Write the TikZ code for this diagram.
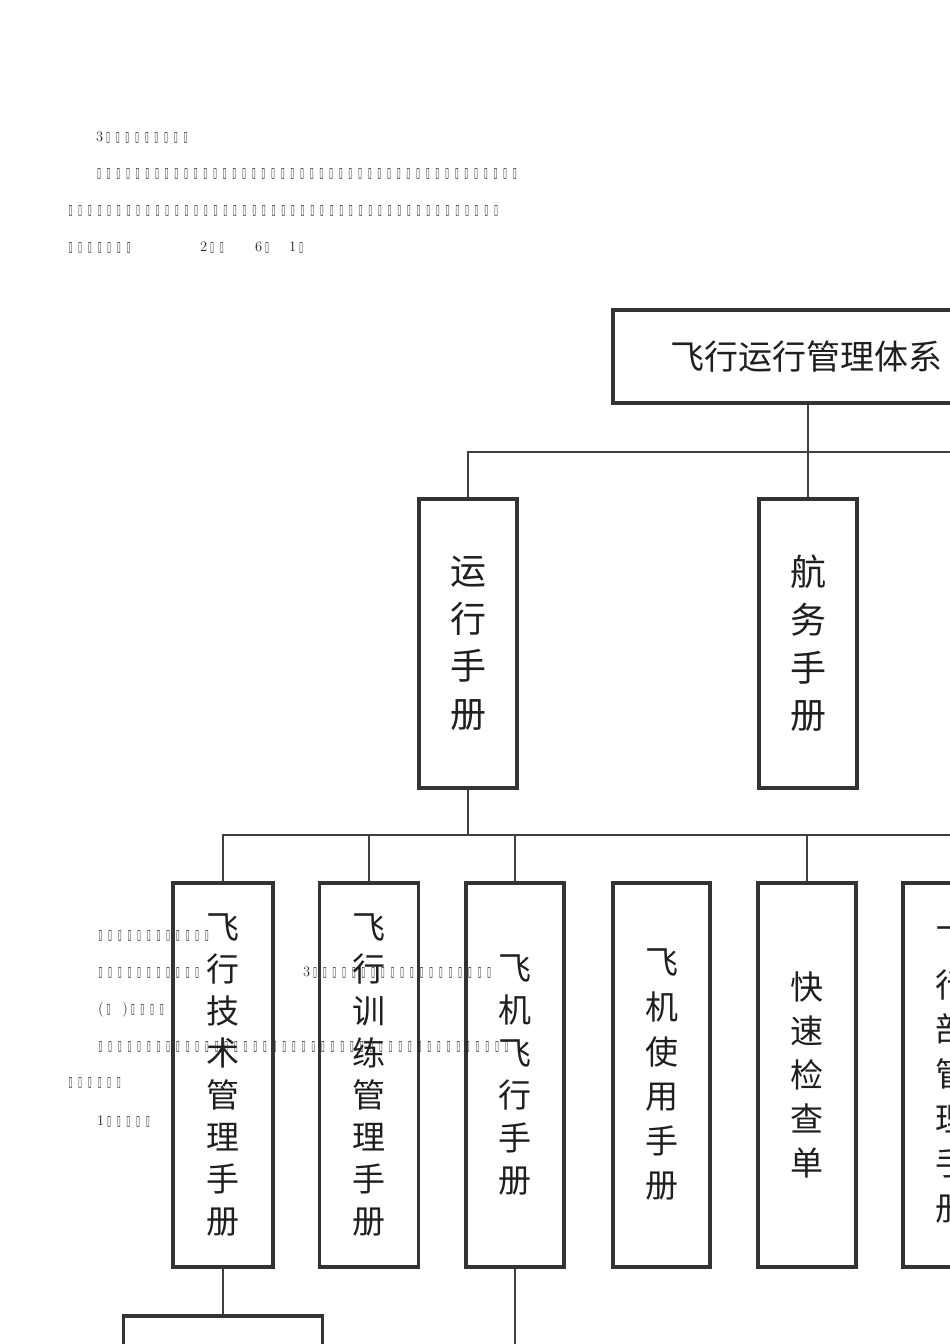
\documentclass[tikz,border=0pt]{standalone}
\usepackage{fontspec}
\usepackage{graphicx}
\newfontfamily\cjk{Noto Sans CJK SC}
\newfontfamily\symb{DejaVu Sans}
\usetikzlibrary{calc}

% Ersatzzeichen
\newcommand{\tofu}{\makebox[9.67pt]{\resizebox*{4pt}{10.5pt}{\symb ▯}}}
\newcommand{\tofus}[1]{\foreach \k in {1,...,#1}{\tofu}}

\begin{document}
\begin{tikzpicture}[x=1pt,y=-1pt,
	kasten/.style={draw=black!80,line width=3.2pt,inner sep=0pt,text=black!88,align=center},
	linie/.style={draw=black!75,line width=2pt},
	zeile/.style={inner sep=0pt,anchor=west,text=black!85,font=\fontsize{14.5}{14.5}\selectfont}]
		\useasboundingbox (0,0) rectangle (950,1344);
		\clip (0,0) rectangle (950,1344);
		\fill[white] (0,0) rectangle (950,1344);
		
		% Kaesten
		\node[kasten,minimum width=386pt,minimum height=93pt,font=\cjk\fontsize{34}{34}\selectfont] (sys) at (806,356.5) {飞行运行管理体系};
		\node[kasten,minimum width=98pt,minimum height=289pt,font=\cjk\fontsize{36}{47.7}\selectfont] (yunx) at (468,643.5) {运\\行\\手\\册};
		\node[kasten,minimum width=98pt,minimum height=289pt,font=\cjk\fontsize{36}{47.7}\selectfont] (hang) at (808,643.5) {航\\务\\手\\册};
		
		\node[kasten,minimum width=100pt,minimum height=384pt,font=\cjk\fontsize{33}{42}\selectfont] (b1) at (223,1075) {飞\\行\\技\\术\\管\\理\\手\\册};
		\node[kasten,minimum width=99pt,minimum height=384pt,font=\cjk\fontsize{33}{42}\selectfont] (b2) at (369,1075) {飞\\行\\训\\练\\管\\理\\手\\册};
		\node[kasten,minimum width=98pt,minimum height=384pt,font=\cjk\fontsize{33}{42.4}\selectfont] (b3) at (515,1075) {飞\\机\\飞\\行\\手\\册};
		\node[kasten,minimum width=97pt,minimum height=384pt,font=\cjk\fontsize{33}{44.6}\selectfont] (b4) at (661.5,1075) {飞\\机\\使\\用\\手\\册};
		\node[kasten,minimum width=98pt,minimum height=384pt,font=\cjk\fontsize{33}{43.8}\selectfont] (b5) at (807,1075) {快\\速\\检\\查\\单};
		\node[kasten,minimum width=98pt,minimum height=384pt,font=\cjk\fontsize{33}{44.6}\selectfont] (b6) at (952,1075) {飞\\行\\部\\管\\理\\手\\册};
		\node[kasten,minimum width=199pt,minimum height=100pt] (c1) at (223,1366) {};
		
		% Linien
		\coordinate (bus1) at (960,452);
		\coordinate (bus2) at (960,835);
		\coordinate (ende) at (515,1350);
		\draw[linie] (sys.south -| hang.north) -- (hang.north);
		\draw[linie] (yunx.north) |- (bus1);
		\draw[linie] (yunx.south) -- (yunx.south |- bus2);
		\draw[linie] (b1.north) |- (bus2);
		\foreach \n in {b2,b3,b5}
			\draw[linie] (\n.north) -- (\n.north |- bus2);
		\draw[linie] (b1.south) -- (c1.north);
		\draw[linie] (b3.south) -- (b3.south |- ende);
		
		% Textzeilen
		\node[zeile] (t1) at (96,138) {3\tofus{9}};
		\node[zeile] (t2) at (94,174) {\tofus{44}};
		\node[zeile] (t3) at (65.5,211) {\tofus{45}};
		\node[zeile] (t4) at (65.5,248) {\tofus{7}};
		\node[zeile] (t5) at (200,248) {2\tofus{2}};
		\node[zeile] (t6) at (255,248) {6\tofu};
		\node[zeile] (t7) at (289,248) {1\tofu};
		
		\node[zeile] (t8) at (95.5,936) {\tofus{12}};
		\node[zeile] (t9) at (95.5,973) {\tofus{11}};
		\node[zeile] (t10) at (303,973) {3\tofus{19}};
		\node[zeile] (t11) at (98,1010) {(\tofu\hspace{9pt})\tofus{4}};
		\node[zeile] (t12) at (95.5,1047) {\tofus{43}};
		\node[zeile] (t13) at (65.5,1083) {\tofus{6}};
		\node[zeile] (t14) at (97,1122) {1\tofus{5}};
	\end{tikzpicture}
\end{document}
